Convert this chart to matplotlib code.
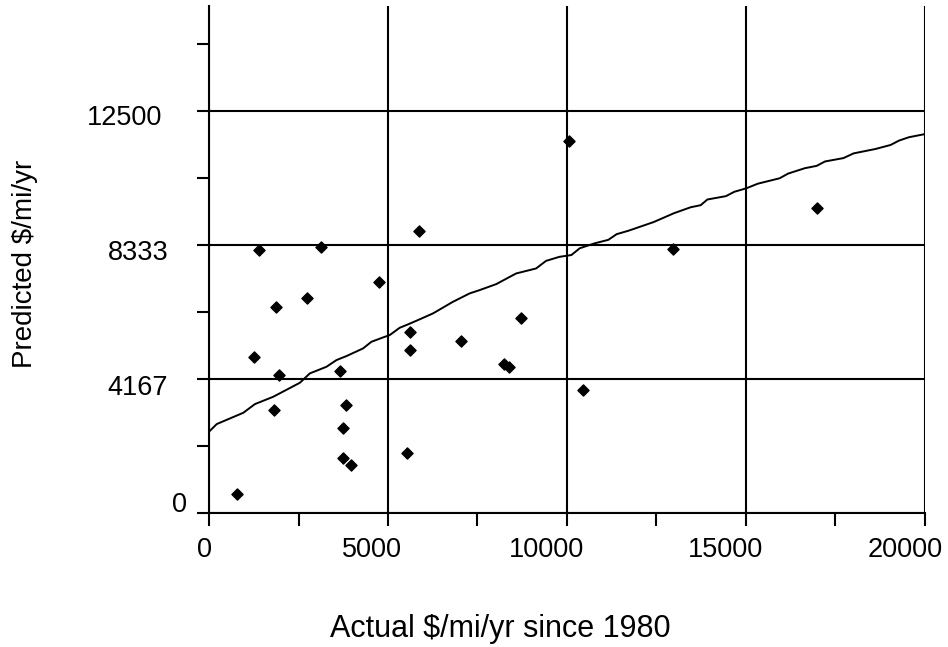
import matplotlib
matplotlib.use("Agg")
import matplotlib.pyplot as plt
from matplotlib.ticker import MultipleLocator, FixedLocator
from matplotlib.transforms import offset_copy

plt.rcParams['font.family'] = ['Liberation Sans', 'DejaVu Sans']

# scatter: actual vs predicted
actual = [1403, 3125, 4750, 2724, 1877, 1255, 1953, 3652, 5605, 5605,
          7028, 8722, 8255, 8395, 1813, 3821, 3747, 3747, 3980, 5540,
          790, 5857, 10061, 16985, 12973, 10441]
predicted = [8166, 8250, 7182, 6685, 6396, 4853, 4275, 4418, 5630, 5061,
             5350, 6045, 4626, 4524, 3198, 3363, 2639, 1717, 1490, 1872,
             590, 8766, 11569, 9480, 8203, 3831]

# fitted curve
fit_x = [0, 215, 958, 1283, 1794, 2538, 2817, 3282, 3561, 3840, 4304, 4537,
         4862, 5048, 5327, 5560, 5838, 6257, 6815, 7280, 7559, 8024, 8582,
         9139, 9418, 9790, 10125, 10360, 10784, 11157, 11391, 11720, 12425,
         12988, 13457, 13738, 13927, 14443, 14678, 15007, 15336, 15945,
         16182, 16650, 16979, 17213, 17729, 18011, 18620, 19044, 19279,
         19561, 20000]
fit_y = [2525, 2763, 3114, 3384, 3611, 4046, 4337, 4543, 4751, 4875, 5113,
         5319, 5454, 5527, 5754, 5860, 5993, 6200, 6561, 6821, 6924, 7110,
         7442, 7597, 7833, 7958, 8014, 8225, 8380, 8486, 8663, 8769, 9039,
         9312, 9498, 9563, 9740, 9843, 9979, 10085, 10231, 10399, 10545,
         10712, 10784, 10921, 11026, 11172, 11308, 11433, 11569, 11675, 11770]

x_ticks = [0, 5000, 10000, 15000, 20000]
y_ticks = [0, 4167, 8333, 12500]
y_minor = [2083, 6250, 10417, 14583]

fs = 19.5          # tick label size (pt)
px = 72 / 100      # points per pixel

fig = plt.figure(figsize=(9.48, 6.47), dpi=100)
ax = fig.add_axes([0.2205, 0.2071, 0.755, 0.7836])

ax.plot(fit_x, fit_y, color='black', lw=1.4, zorder=3)
ax.scatter(actual, predicted, marker='D', s=32, color='black', zorder=4)

ax.set_xlim(0, 20000)
ax.set_ylim(0, 15750)
ax.xaxis.set_major_locator(FixedLocator(x_ticks))
ax.xaxis.set_minor_locator(MultipleLocator(2500))
ax.yaxis.set_major_locator(FixedLocator(y_ticks))
ax.yaxis.set_minor_locator(FixedLocator(y_minor))

ax.grid(True, which='major', color='black', lw=1.5)
ax.tick_params(which='both', direction='out', width=1.5, color='black',
               length=9, labelleft=False, labelbottom=False)

for s in ['top', 'right']:
    ax.spines[s].set_visible(False)
for s in ['left', 'bottom']:
    ax.spines[s].set_linewidth(1.5)

# tick labels, placed like the original (shifted a bit left)
digit_w = 0.556 * fs / px   # width of one digit in pixels
y_nudge = [-1, 16, 15, 14]  # baseline below gridline, px
for v, dy in zip(y_ticks, y_nudge):
    w = len(str(v)) * digit_w
    tr = offset_copy(ax.get_yaxis_transform(), fig=fig,
                     x=(-16 - 0.41 * w) * px, y=-dy * px, units='points')
    ax.text(0, v, str(v), transform=tr, ha='right', va='baseline',
            fontsize=fs)

for v in x_ticks:
    w = len(str(v)) * digit_w
    tr = offset_copy(ax.get_xaxis_transform(), fig=fig,
                     x=(-1.25 - 0.25 * w) * px, y=-43.5 * px, units='points')
    ax.text(v, 0, str(v), transform=tr, ha='center', va='baseline',
            fontsize=fs, clip_on=False)

fig.text(500 / 948, 1 - 637 / 647, 'Actual $/mi/yr since 1980',
         ha='center', va='baseline', fontsize=22)
fig.text(25.5 / 948, 1 - 264 / 647, 'Predicted $/mi/yr', rotation=90,
         ha='center', va='center', fontsize=20)

fig.savefig('out.png', dpi=100)
